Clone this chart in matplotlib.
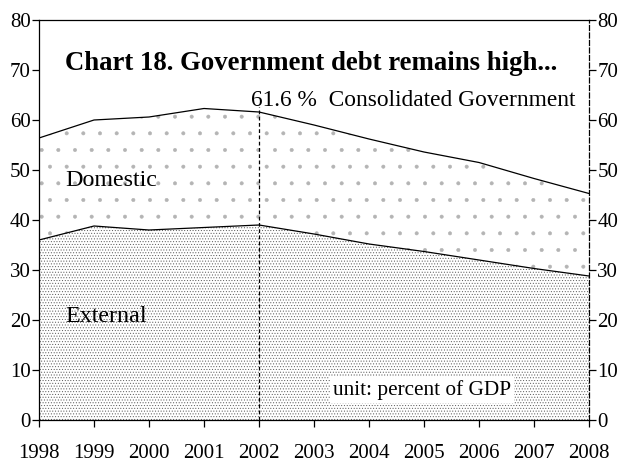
import matplotlib
matplotlib.use("Agg")
import matplotlib.pyplot as plt

plt.rcParams['font.family'] = ['Liberation Serif', 'DejaVu Serif']
plt.rcParams['hatch.linewidth'] = 0.4

# debt, percent of GDP
years = [1998, 1999, 2000, 2001, 2002, 2003, 2004, 2005, 2006, 2007, 2008]
external = [36.0, 38.8, 38.0, 38.5, 39.0, 37.2, 35.2, 33.7, 32.0, 30.3, 28.8]
total = [56.4, 60.0, 60.6, 62.3, 61.6, 59.0, 56.2, 53.6, 51.5, 48.3, 45.3]
marker_year = 2002
marker_value = 61.6

fig = plt.figure(figsize=(6.23, 4.62), dpi=100)
ax = fig.add_axes([39 / 623, 42 / 462, 550 / 623, 400 / 462])

# stacked areas: external at the bottom (dense stipple), domestic on top
ax.fill_between(years, 0, external, facecolor='white', edgecolor='#5a5a5a',
                hatch='......', linewidth=0)
ax.fill_between(years, external, total, facecolor='white', edgecolor='#b4b4b4',
                hatch='.', linewidth=0)
ax.plot(years, external, color='black', lw=0.9)
ax.plot(years, total, color='black', lw=0.9)

ax.vlines(marker_year, 0, marker_value + 1.0, colors='black', lw=0.9,
          linestyles=(0, (3, 2)))

ax.set_xlim(1998, 2008)
ax.set_ylim(0, 80)
ax.set_xticks(years)
ax.set_yticks(range(0, 81, 10))

ax.tick_params(axis='both', labelsize=15, length=5, width=0.9, color='black')
ax.tick_params(axis='x', pad=12)
ax.tick_params(axis='y', pad=1)
ax.tick_params(axis='y', which='both', right=True, labelright=True,
               direction='out')

for side in ['left', 'bottom', 'top']:
    ax.spines[side].set_linewidth(0.9)
ax.spines['right'].set_linewidth(0.9)
ax.spines['right'].set_linestyle((0, (4, 2)))

ax.text(1998.48, 71.4, 'Chart 18. Government debt remains high...',
        fontsize=19.3, fontweight='bold', va='center', ha='left')
ax.text(2001.85, 63.8, '61.6 %  Consolidated Government', fontsize=16.8,
        va='center', ha='left')
ax.text(1998.48, 48, 'Domestic', fontsize=17.3, va='center', ha='left')
ax.text(1998.48, 20.6, 'External', fontsize=17.3, va='center', ha='left')
ax.text(2003.35, 6, 'unit: percent of GDP', fontsize=15.3, va='center',
        ha='left', bbox=dict(facecolor='white', edgecolor='none', pad=2))

fig.savefig('out.png', dpi=100)
